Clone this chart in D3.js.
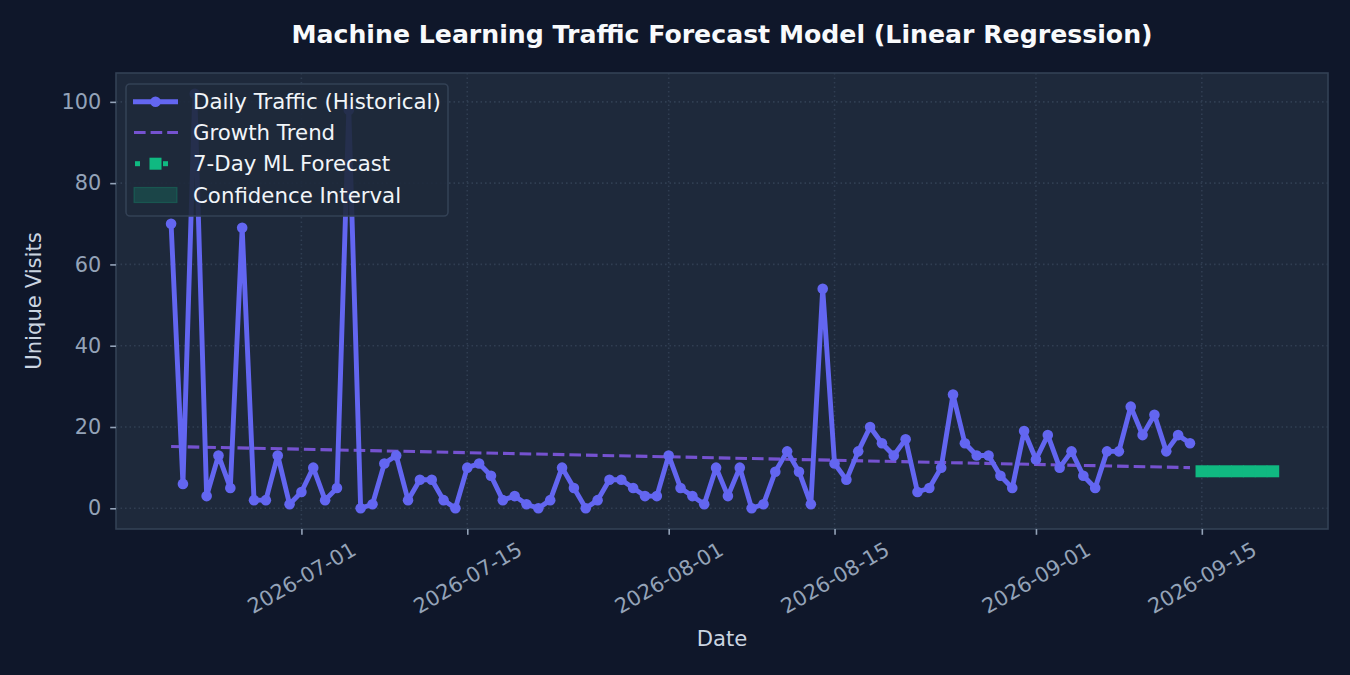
<!DOCTYPE html>
<html>
<head>
<meta charset="utf-8">
<script src="https://cdn.jsdelivr.net/npm/d3@7"></script>
<style>
  html, body { margin: 0; padding: 0; background: #0f172a; }
  svg { display: block; font-family: "DejaVu Sans", sans-serif; }
</style>
</head>
<body>
<svg id="chart" width="1350" height="675"></svg>
<script>
// ---- data ----
const startDate = "2026-06-20";
const dailyVisits = [
  70, 6, 102, 3, 13, 5, 69, 2, 2, 13, 1,            // Jun 20 - Jun 30
  4, 10, 2, 5, 98, 0, 1, 11, 13, 2, 7, 7, 2, 0, 10,  // Jul 1 - Jul 15
  11, 8, 2, 3, 1, 0, 2, 10, 5, 0, 2, 7, 7, 5, 3, 3,  // Jul 16 - Jul 31
  13, 5, 3, 1, 10, 3, 10, 0, 1, 9, 14, 9, 1, 54,     // Aug 1 - Aug 14
  11, 7, 14, 20, 16, 13, 17, 4, 5, 10, 28, 16, 13, 13, 8, 5, 19, // Aug 15 - Aug 31
  12, 18, 10, 14, 8, 5, 14, 14, 25, 18, 23, 14, 18, 16 // Sep 1 - Sep 14
];
const trendDates = ["2026-06-20", "2026-09-14"];
const trendValues = [15.2, 10.0];
const forecastDates = ["2026-09-15", "2026-09-16", "2026-09-17", "2026-09-18", "2026-09-19", "2026-09-20", "2026-09-21"];
const forecastValues = [9.1, 9.1, 9.1, 9.1, 9.1, 9.1, 9.1];
const ciLower = [8.6, 8.6, 8.6, 8.6, 8.6, 8.6, 8.6];
const ciUpper = [9.6, 9.6, 9.6, 9.6, 9.6, 9.6, 9.6];
const xTickLabels = ["2026-07-01", "2026-07-15", "2026-08-01", "2026-08-15", "2026-09-01", "2026-09-15"];
const yTickValues = [0, 20, 40, 60, 80, 100];
const legendLabels = ["Daily Traffic (Historical)", "Growth Trend", "7-Day ML Forecast", "Confidence Interval"];

// ---- setup ----
const parse = d3.utcParse("%Y-%m-%d");
const DAY = 86400000;
const start = parse(startDate);
const hist = dailyVisits.map((v, i) => ({ date: new Date(start.getTime() + i * DAY), v }));
const trend = trendDates.map((d, i) => ({ date: parse(d), v: trendValues[i] }));
const fc = forecastDates.map((d, i) => ({ date: parse(d), v: forecastValues[i], lo: ciLower[i], hi: ciUpper[i] }));

const L = 116, R = 1328, T = 73, B = 529;
const svg = d3.select("#chart");
svg.append("rect").attr("width", 1350).attr("height", 675).attr("fill", "#0f172a");

const xMin = hist[0].date.getTime(), xMax = fc[fc.length - 1].date.getTime();
const xPad = (xMax - xMin) * 0.05;
const x = d3.scaleUtc().domain([new Date(xMin - xPad), new Date(xMax + xPad)]).range([L, R]);
const yMaxData = d3.max(dailyVisits), yMinData = 0;
const yPad = (yMaxData - yMinData) * 0.05;
const y = d3.scaleLinear().domain([yMinData - yPad, yMaxData + yPad]).range([B, T]);

// axes background
svg.append("rect").attr("x", L).attr("y", T).attr("width", R - L).attr("height", B - T).attr("fill", "#1e293b");

const xTicks = xTickLabels.map(parse);

// grid
const grid = svg.append("g").attr("stroke", "#334155").attr("stroke-width", 1.6).attr("stroke-dasharray", "1.6,2.9").attr("opacity", 0.9);
xTicks.forEach(t => grid.append("line").attr("x1", x(t)).attr("x2", x(t)).attr("y1", T).attr("y2", B));
yTickValues.forEach(v => grid.append("line").attr("x1", L).attr("x2", R).attr("y1", y(v)).attr("y2", y(v)));

// CI
svg.append("path").datum(fc)
  .attr("d", d3.area().x(d => x(d.date)).y0(d => y(d.lo)).y1(d => y(d.hi)))
  .attr("fill", "#10b981").attr("fill-opacity", 0.2);

// trend
svg.append("path").datum(trend)
  .attr("d", d3.line().x(d => x(d.date)).y(d => y(d.v)))
  .attr("fill", "none").attr("stroke", "#8b5cf6").attr("stroke-opacity", 0.8)
  .attr("stroke-width", 3.1).attr("stroke-dasharray", "11.6,5");

// historical line
svg.append("path").datum(hist)
  .attr("d", d3.line().x(d => x(d.date)).y(d => y(d.v)))
  .attr("fill", "none").attr("stroke", "#6366f1").attr("stroke-width", 4.9).attr("stroke-linejoin", "round");
svg.append("g").selectAll("circle").data(hist).join("circle")
  .attr("cx", d => x(d.date)).attr("cy", d => y(d.v)).attr("r", 5.3).attr("fill", "#6366f1");

// forecast
svg.append("path").datum(fc)
  .attr("d", d3.line().x(d => x(d.date)).y(d => y(d.v)))
  .attr("fill", "none").attr("stroke", "#10b981").attr("stroke-width", 3);
const sq = 12.6;
svg.append("g").selectAll("rect").data(fc).join("rect")
  .attr("x", d => x(d.date) - sq / 2).attr("y", d => y(d.v) - 6)
  .attr("width", sq).attr("height", 12).attr("fill", "#10b981");

// spines
svg.append("rect").attr("x", L).attr("y", T).attr("width", R - L).attr("height", B - T)
  .attr("fill", "none").attr("stroke", "#334155").attr("stroke-width", 1.6);

// x axis
const xAxis = d3.axisBottom(x).tickValues(xTicks).tickSize(5.8).tickPadding(0).tickFormat(d3.utcFormat("%Y-%m-%d"));
const gx = svg.append("g").attr("transform", `translate(0,${B})`).call(xAxis);
gx.select(".domain").remove();
gx.selectAll(".tick line").attr("stroke", "#94a3b8").attr("stroke-width", 1.6);
gx.selectAll(".tick text")
  .attr("fill", "#94a3b8").attr("font-size", "20.8px").attr("font-family", "DejaVu Sans")
  .attr("text-anchor", "middle").attr("dominant-baseline", "central")
  .attr("y", 0).attr("dy", null)
  .attr("transform", "translate(0,49) rotate(-30)");

// y axis
const yAxis = d3.axisLeft(y).tickValues(yTickValues).tickSize(5.8).tickPadding(9);
const gy = svg.append("g").attr("transform", `translate(${L},0)`).call(yAxis);
gy.select(".domain").remove();
gy.selectAll(".tick line").attr("stroke", "#94a3b8").attr("stroke-width", 1.6);
gy.selectAll(".tick text").attr("fill", "#94a3b8").attr("font-size", "20.8px").attr("font-family", "DejaVu Sans");

// labels
svg.append("text").attr("x", (L + R) / 2).attr("y", 42.5).attr("text-anchor", "middle")
  .attr("fill", "#f8fafc").attr("font-weight", "bold").attr("font-size", "25.2px")
  .text("Machine Learning Traffic Forecast Model (Linear Regression)");
svg.append("text").attr("x", (L + R) / 2).attr("y", 646).attr("text-anchor", "middle")
  .attr("fill", "#cbd5e1").attr("font-size", "21.2px").text("Date");
svg.append("text").attr("transform", `translate(41,${(T + B) / 2}) rotate(-90)`).attr("text-anchor", "middle")
  .attr("fill", "#cbd5e1").attr("font-size", "21.2px").text("Unique Visits");

// legend
const lg = svg.append("g");
lg.append("rect").attr("x", 126).attr("y", 84).attr("width", 322).attr("height", 132).attr("rx", 4)
  .attr("fill", "#1e293b").attr("fill-opacity", 0.9).attr("stroke", "#334155").attr("stroke-width", 1.6);
const rowY = [101.7, 132.5, 163.7, 195];
const hx0 = 133, hx1 = 178, hxm = 155.5;
lg.append("line").attr("x1", hx0).attr("x2", hx1).attr("y1", rowY[0]).attr("y2", rowY[0]).attr("stroke", "#6366f1").attr("stroke-width", 4.9);
lg.append("circle").attr("cx", hxm).attr("cy", rowY[0]).attr("r", 5.3).attr("fill", "#6366f1");
lg.append("line").attr("x1", hx0 + 1).attr("x2", hx1).attr("y1", rowY[1]).attr("y2", rowY[1]).attr("stroke", "#8b5cf6").attr("stroke-opacity", 0.8).attr("stroke-width", 3.1).attr("stroke-dasharray", "11.6,5");
lg.append("rect").attr("x", 135).attr("y", rowY[2] - 2.5).attr("width", 5).attr("height", 5).attr("fill", "#10b981");
lg.append("rect").attr("x", 163).attr("y", rowY[2] - 2.5).attr("width", 5).attr("height", 5).attr("fill", "#10b981");
lg.append("rect").attr("x", hxm - 6).attr("y", rowY[2] - 6).attr("width", 12).attr("height", 12).attr("fill", "#10b981");
lg.append("rect").attr("x", 134).attr("y", rowY[3] - 7.5).attr("width", 43).attr("height", 15)
  .attr("fill", "#10b981").attr("fill-opacity", 0.2).attr("stroke", "#10b981").attr("stroke-opacity", 0.25).attr("stroke-width", 1.2);
legendLabels.forEach((t, i) => lg.append("text").attr("x", 193).attr("y", rowY[i]).attr("dominant-baseline", "central")
  .attr("fill", "#f1f5f9").attr("font-size", "21.3px").text(t));
</script>
</body>
</html>
